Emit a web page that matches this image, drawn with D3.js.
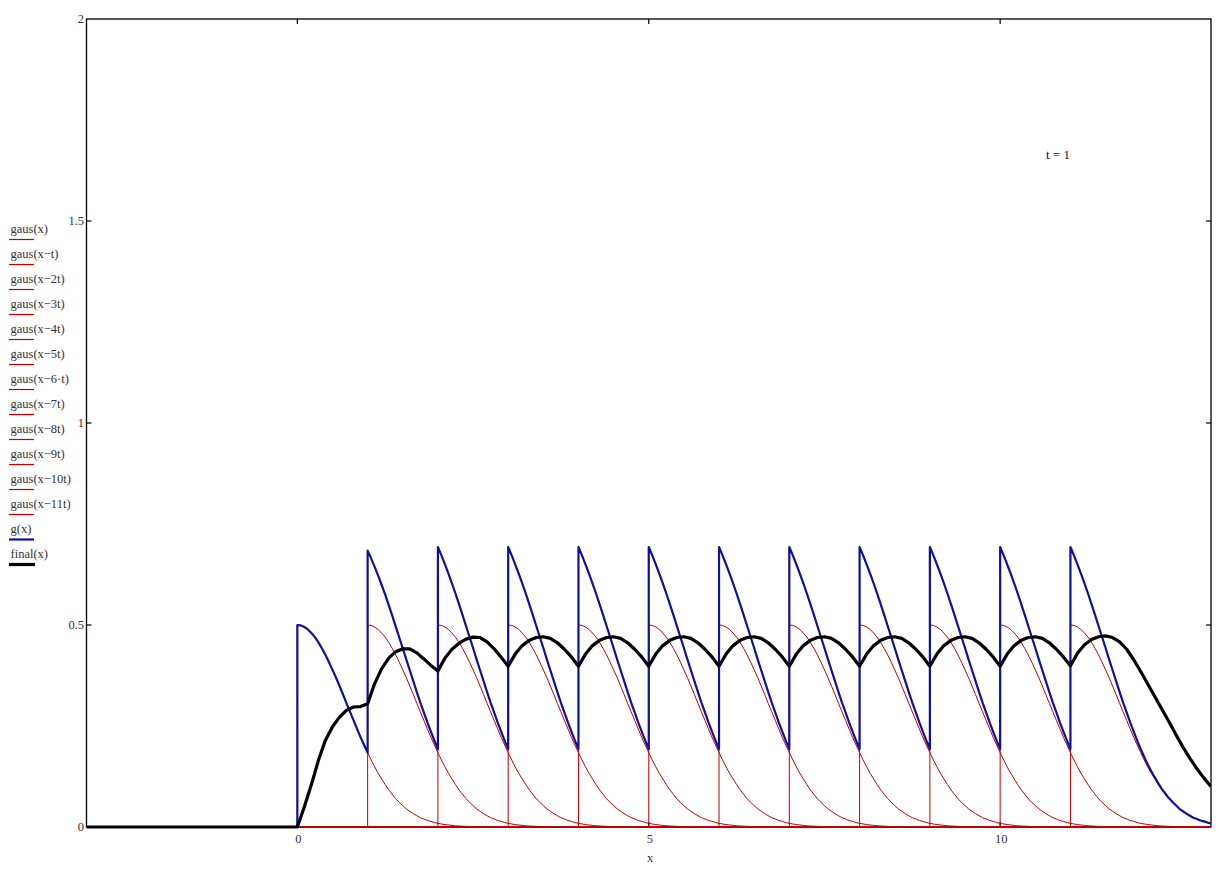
<!DOCTYPE html>
<html><head><meta charset="utf-8">
<script src="https://cdn.jsdelivr.net/npm/d3@7"></script>
<style>body{margin:0;background:#fff}svg{display:block}</style>
</head><body><svg id="c" width="1231" height="871"></svg>
<script>
// ---- data ----
const xDomain = [-3, 13];
const yDomain = [0, 2];
const xTicks = [0, 5, 10];
const yTicks = [0, 0.5, 1, 1.5, 2];
const tValue = 1;
const shifts = [0, 1, 2, 3, 4, 5, 6, 7, 8, 9, 10, 11];
const legendLabels = ["gaus(x)", "gaus(x\u2212t)", "gaus(x\u22122t)", "gaus(x\u22123t)", "gaus(x\u22124t)",
  "gaus(x\u22125t)", "gaus(x\u22126\u00b7t)", "gaus(x\u22127t)", "gaus(x\u22128t)", "gaus(x\u22129t)",
  "gaus(x\u221210t)", "gaus(x\u221211t)", "g(x)", "final(x)"];
// gaus(u) sampled every 0.05 from u = 0 to 2.5 (zero for u < 0)
const gausStep = 0.05;
const gausValues = [0.500, 0.499, 0.495, 0.489, 0.480, 0.470, 0.457, 0.442, 0.426, 0.408,
  0.389, 0.370, 0.349, 0.328, 0.306, 0.285, 0.264, 0.243, 0.222, 0.203,
  0.184, 0.166, 0.149, 0.133, 0.119, 0.105, 0.092, 0.081, 0.070, 0.061,
  0.053, 0.045, 0.039, 0.033, 0.028, 0.023, 0.020, 0.016, 0.014, 0.011,
  0.009, 0.0075, 0.006, 0.005, 0.004, 0.003, 0.0025, 0.002, 0.0016, 0.0012, 0.001];
// final(x): zero for x < 0, sampled every 0.1 from x = 0 to 13
const finalStep = 0.1;
const finalValues = [
  0.000, 0.050, 0.105, 0.165, 0.215, 0.248, 0.272, 0.289, 0.297, 0.298,
  0.305, 0.355, 0.392, 0.418, 0.434, 0.441, 0.441, 0.431, 0.416, 0.400,
  0.386, 0.418, 0.440, 0.455, 0.465, 0.470, 0.469, 0.458, 0.441, 0.420,
  0.398, 0.428, 0.449, 0.462, 0.469, 0.471, 0.467, 0.456, 0.440, 0.421,
  0.398, 0.428, 0.449, 0.462, 0.469, 0.471, 0.467, 0.456, 0.440, 0.421,
  0.398, 0.428, 0.449, 0.462, 0.469, 0.471, 0.467, 0.456, 0.440, 0.421,
  0.398, 0.428, 0.449, 0.462, 0.469, 0.471, 0.467, 0.456, 0.440, 0.421,
  0.398, 0.428, 0.449, 0.462, 0.469, 0.471, 0.467, 0.456, 0.440, 0.421,
  0.398, 0.428, 0.449, 0.462, 0.469, 0.471, 0.467, 0.456, 0.440, 0.421,
  0.398, 0.428, 0.449, 0.462, 0.469, 0.471, 0.467, 0.456, 0.440, 0.421,
  0.398, 0.428, 0.449, 0.462, 0.469, 0.471, 0.467, 0.456, 0.440, 0.421,
  0.399, 0.430, 0.451, 0.464, 0.471, 0.473, 0.469, 0.458, 0.440, 0.414,
  0.385, 0.354, 0.323, 0.292, 0.261, 0.229, 0.198, 0.170, 0.144, 0.121,
  0.100];

// ---- layout ----
const svg = d3.select("#c");
const plot = {left: 86.5, top: 19, right: 1211, bottom: 827};
const x = d3.scaleLinear().domain(xDomain).range([plot.left, plot.right]);
const y = d3.scaleLinear().domain(yDomain).range([plot.bottom, plot.top]);
const font = "'Liberation Serif', 'Times New Roman', serif";
const redC = "#c00000", blueC = "#10109a", blackC = "#000";

svg.append("rect").attr("width", 1231).attr("height", 871).attr("fill", "#fff");

svg.append("defs").append("clipPath").attr("id", "clip").append("rect")
  .attr("x", plot.left).attr("y", plot.top - 2)
  .attr("width", plot.right - plot.left).attr("height", plot.bottom - plot.top + 4);

// frame
svg.append("rect").attr("x", plot.left).attr("y", plot.top)
  .attr("width", plot.right - plot.left).attr("height", plot.bottom - plot.top)
  .attr("fill", "none").attr("stroke", "#000").attr("stroke-width", 1.3);

// ticks
const tk = svg.append("g").attr("stroke", "#000").attr("stroke-width", 1.2);
yTicks.filter(v => v > yDomain[0] && v < yDomain[1]).forEach(v => {
  tk.append("line").attr("x1", plot.left).attr("x2", plot.left + 5).attr("y1", y(v)).attr("y2", y(v));
  tk.append("line").attr("x1", plot.right).attr("x2", plot.right - 5).attr("y1", y(v)).attr("y2", y(v));
});
xTicks.forEach(v => {
  tk.append("line").attr("x1", x(v)).attr("x2", x(v)).attr("y1", plot.bottom).attr("y2", plot.bottom - 5);
  tk.append("line").attr("x1", x(v)).attr("x2", x(v)).attr("y1", plot.top).attr("y2", plot.top + 5);
});

// tick labels
const lab = svg.append("g").attr("font-family", font).attr("font-size", 12.5).attr("fill", "#333");
yTicks.forEach(v => {
  lab.append("text").attr("x", plot.left - 2.5).attr("y", y(v)).attr("dy", "0.35em")
    .attr("text-anchor", "end").text(d3.format("~g")(v));
});
xTicks.forEach(v => {
  lab.append("text").attr("x", x(v) + 1).attr("y", 839).attr("dy", "0.35em")
    .attr("text-anchor", "middle").text(v);
});
lab.append("text").attr("x", 650).attr("y", 858).attr("dy", "0.35em")
  .attr("text-anchor", "middle").text("x");
svg.append("text").attr("x", 1046).attr("y", 154).attr("dy", "0.35em")
  .attr("font-family", font).attr("font-size", 13).attr("fill", "#111").text("t = " + tValue);

// ---- series ----
const line = d3.line().x(d => x(d[0])).y(d => y(d[1]));
const nG = gausValues.length;
const curves = svg.append("g").attr("clip-path", "url(#clip)");

// gaus(x - k t)
shifts.forEach(k => {
  const s = k * tValue;
  const pts = [[xDomain[0], 0], [s, 0]];
  gausValues.forEach((v, j) => pts.push([s + j * gausStep, v]));
  pts.push([s + nG * gausStep, 0], [xDomain[1] + 1, 0]);
  curves.append("path").attr("d", line(pts)).attr("fill", "none")
    .attr("stroke", redC).attr("stroke-width", 1);
});

// g(x) = sum of the shifted gaus curves
const gPts = [];
const i0 = Math.round(xDomain[0] / gausStep), i1 = Math.round(xDomain[1] / gausStep);
const perShift = Math.round(tValue / gausStep);
for (let i = i0; i <= i1; i++) {
  const xv = i * gausStep;
  let sum = 0, sumLeft = 0;
  shifts.forEach(k => {
    const j = i - k * perShift;
    const v = (j >= 0 && j < nG) ? gausValues[j] : 0;
    sum += v;
    if (j !== 0) sumLeft += v;
  });
  if (i % perShift === 0 && shifts.includes(i / perShift)) gPts.push([xv, sumLeft]);
  gPts.push([xv, sum]);
}
curves.append("path").attr("d", line(gPts)).attr("fill", "none")
  .attr("stroke", blueC).attr("stroke-width", 2.2).attr("stroke-linejoin", "round");

// final(x)
const fPts = [[xDomain[0], 0]];
finalValues.forEach((v, i) => fPts.push([i * finalStep, v]));
curves.append("path").attr("d", line(fPts)).attr("fill", "none")
  .attr("stroke", blackC).attr("stroke-width", 3.2).attr("stroke-linejoin", "round");

// ---- legend ----
const lg = svg.append("g").attr("font-family", font).attr("font-size", 12.5);
legendLabels.forEach((t, i) => {
  const cy = 229 + 25 * i;
  const isG = i === 12, isF = i === 13;
  lg.append("text").attr("x", 10.5).attr("y", cy).attr("dy", "0.35em").attr("fill", "#333").text(t);
  lg.append("line").attr("x1", 9).attr("x2", isF ? 35 : 34)
    .attr("y1", cy + 10.5).attr("y2", cy + 10.5)
    .attr("stroke", isF ? blackC : (isG ? blueC : redC))
    .attr("stroke-width", isF ? 3.2 : (isG ? 2.2 : 1.2));
});
</script>
</body></html>
